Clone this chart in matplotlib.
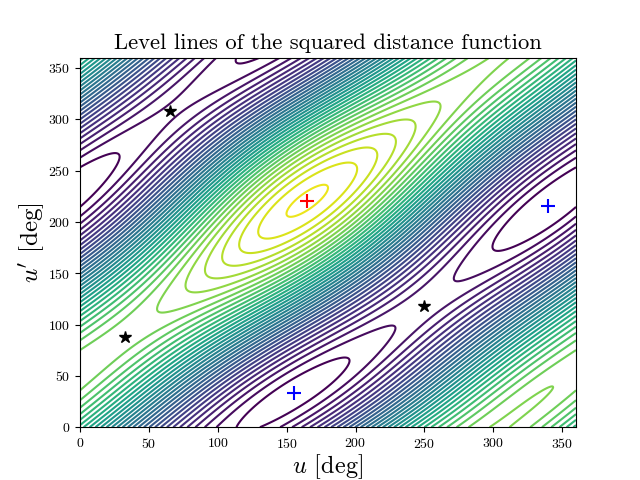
import numpy as np
import matplotlib
matplotlib.use('Agg')
import matplotlib.pyplot as plt

plt.rcParams['font.family'] = 'cmr10'
plt.rcParams['mathtext.fontset'] = 'cm'
plt.rcParams['axes.formatter.use_mathtext'] = True
plt.rcParams['axes.unicode_minus'] = False

# Harmonic coefficients of the field, estimated from the contours of the picture
# (the unit is one contour level)
mean_value = 15.6137
u_terms = [-1.6572, 0.2294, 0.1223, -0.1081]  # cos u, sin u, cos 2u, sin 2u
v_terms = [-1.1044, -0.9568, -0.0811, -0.1163]  # cos u', sin u', cos 2u', sin 2u'
cross_terms = [9.691, 13.0669, -12.4626, 7.7612]  # cc, cs, sc, ss

n_levels = 36

# Critical points
max_u = [165]
max_v = [220]
min_u = [155, 340]
min_v = [33, 215]
saddle_u = [65, 33, 250]
saddle_v = [308, 88, 118]

x = np.deg2rad(np.linspace(0, 360, 721))
u, v = np.meshgrid(x, x)

z = (mean_value
     + u_terms[0]*np.cos(u) + u_terms[1]*np.sin(u) + u_terms[2]*np.cos(2*u) + u_terms[3]*np.sin(2*u)
     + v_terms[0]*np.cos(v) + v_terms[1]*np.sin(v) + v_terms[2]*np.cos(2*v) + v_terms[3]*np.sin(2*v)
     + cross_terms[0]*np.cos(u)*np.cos(v) + cross_terms[1]*np.cos(u)*np.sin(v)
     + cross_terms[2]*np.sin(u)*np.cos(v) + cross_terms[3]*np.sin(u)*np.sin(v))

fig, ax = plt.subplots()
ax.contour(np.rad2deg(u), np.rad2deg(v), z, levels=np.arange(n_levels), cmap='viridis', vmin=0, vmax=n_levels)
ax.plot(max_u, max_v, '+', color='red', ms=10, mew=1.5)
ax.plot(min_u, min_v, '+', color='blue', ms=10, mew=1.5, ls='none')
ax.plot(saddle_u, saddle_v, '*', color='black', ms=9, ls='none')

ax.set_title('Level lines of the squared distance function', fontsize=16.3)
ax.set_xlabel(r'$u$ [deg]', fontsize=17.5, labelpad=1)
ax.set_ylabel(r"$u'$ [deg]", fontsize=18, labelpad=1)
fig.savefig('out.png', dpi=100)
